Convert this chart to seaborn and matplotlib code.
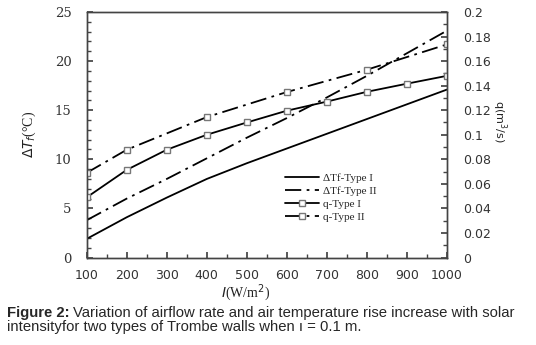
import numpy as np
import pandas as pd
import matplotlib.pyplot as plt
import seaborn as sns
from matplotlib.ticker import MultipleLocator

intensity = [100, 200, 300, 400, 500, 600, 700, 800, 900, 1000]
dtf_type1 = [1.9, 4.1, 6.1, 8.0, 9.6, 11.1, 12.6, 14.1, 15.6, 17.1]
dtf_type2 = [3.8, 6.0, 8.0, 10.1, 12.2, 14.2, 16.3, 18.5, 20.8, 23.1]
q_type1 = [0.049, 0.0714, 0.0878, 0.100, 0.110, 0.1196, 0.127, 0.135, 0.1416, 0.148]
intensity_q2 = [100, 200, 400, 600, 800, 1000]
q_type2 = [0.069, 0.0878, 0.1144, 0.1348, 0.153, 0.1736]

labels = ["\u0394Tf-Type I", "\u0394Tf-Type II", "q-Type I", "q-Type II"]

sns.set_theme(style="white")

fig = plt.figure(figsize=(5.36, 3.45), dpi=100)
ax = fig.add_axes([0.1618, 0.2536, 0.672, 0.7116])
ax2 = ax.twinx()

dashdot = (0, (9, 3, 1.5, 3))
sns.lineplot(x=intensity, y=dtf_type1, ax=ax, color="black", lw=1.3, label=labels[0], legend=False)
sns.lineplot(x=intensity, y=dtf_type2, ax=ax, color="black", lw=1.3, linestyle=dashdot,
             label=labels[1], legend=False)
sns.lineplot(x=intensity, y=q_type1, ax=ax2, color="black", lw=1.3, marker="s", markersize=5,
             markerfacecolor="white", markeredgecolor="#777777", markeredgewidth=1.0,
             label=labels[2], legend=False)
sns.lineplot(x=intensity_q2, y=q_type2, ax=ax2, color="black", lw=1.3, linestyle=dashdot,
             marker="s", markersize=5, markerfacecolor="white", markeredgecolor="#777777",
             markeredgewidth=1.0, label=labels[3], legend=False)

ax.set_xlim(100, 1000)
ax.set_ylim(0, 25)
ax2.set_ylim(0, 0.2)
ax.xaxis.set_major_locator(MultipleLocator(100))
ax.xaxis.set_minor_locator(MultipleLocator(50))
ax.yaxis.set_major_locator(MultipleLocator(5))
ax.yaxis.set_minor_locator(MultipleLocator(1))
ax2.yaxis.set_major_locator(MultipleLocator(0.02))
ax2.yaxis.set_minor_locator(MultipleLocator(0.01))

for a in (ax, ax2):
    for s in a.spines.values():
        s.set_color("#444444")
        s.set_linewidth(1.0)
ax.tick_params(axis="both", which="both", direction="in", colors="#444444", labelcolor="#333333")
ax.tick_params(axis="x", which="major", length=4, pad=8, bottom=True)
ax.tick_params(axis="x", which="minor", length=3, bottom=True)
ax.tick_params(axis="y", which="major", length=4, pad=11, left=True)
ax.tick_params(axis="y", which="minor", length=3, left=True)
ax2.tick_params(axis="y", which="both", direction="in", right=True, colors="#444444",
                labelcolor="#333333", pad=12)
ax2.tick_params(axis="y", which="major", length=4)
ax2.tick_params(axis="y", which="minor", length=3)

ax2.yaxis.set_major_formatter(lambda v, p: "0" if v == 0 else f"{v:.2f}".rstrip("0"))

for t in ax.get_yticklabels():
    t.set_fontfamily("DejaVu Serif")
    t.set_fontsize(9.5)
for t in ax.get_xticklabels() + ax2.get_yticklabels():
    t.set_fontfamily("DejaVu Sans")
    t.set_fontsize(9)

ax.set_xlabel(r"$I$(W/m$^2$)", fontsize=10, family="Liberation Serif", color="#222222")
ax.xaxis.set_label_coords(0.44, -0.1)
ax.set_ylabel(r"$\Delta T_f$(°C)", fontsize=10, family="Liberation Serif", color="#222222")
ax.yaxis.set_label_coords(-0.135, 0.5)
ax2.set_ylabel(r"q(m$^3$/s)", fontsize=8, family="DejaVu Sans", rotation=270, color="#222222")
ax2.yaxis.set_label_coords(1.17, 0.555)

h1, l1 = ax.get_legend_handles_labels()
h2, l2 = ax2.get_legend_handles_labels()
leg = ax.legend(h1 + h2, l1 + l2, loc="upper left", bbox_to_anchor=(0.522, 0.515),
                bbox_transform=fig.transFigure, frameon=False, handlelength=3.0,
                handletextpad=0.4, labelspacing=0.3, borderpad=0,
                prop={"family": "Liberation Serif", "size": 8})

# caption
cap_y1 = 1 - 313 / 345
cap_y2 = 1 - 327 / 345
bold = fig.text(7 / 536, cap_y1, "Figure 2:", fontsize=10.7, fontweight="bold",
                family="Liberation Sans", va="center")
fig.canvas.draw()
bb = bold.get_window_extent()
fig.text(bb.x1 / fig.bbox.width + 0.006, cap_y1,
         "Variation of airflow rate and air temperature rise increase with solar",
         fontsize=10.7, family="Liberation Sans", va="center")
fig.text(7 / 536, cap_y2, "intensityfor two types of Trombe walls when \u0131 = 0.1 m.",
         fontsize=10.7, family="Liberation Sans", va="center")

fig.savefig("out.png", dpi=100)
